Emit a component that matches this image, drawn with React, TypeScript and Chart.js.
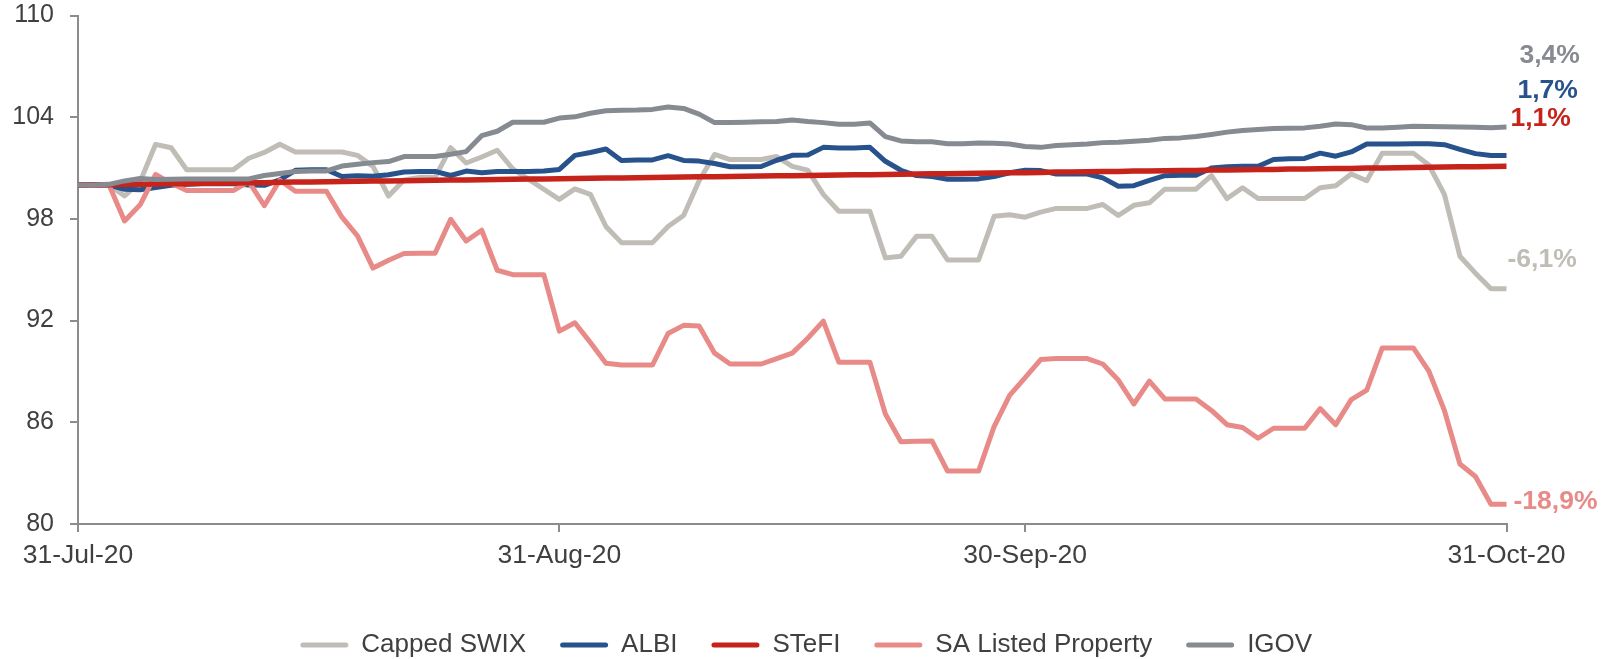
import React, { useEffect, useRef } from "react";
import { Chart, registerables } from "chart.js";

Chart.register(...registerables);

// ---------- categories ----------
const START_DATE = "2020-07-31";
const DAY_COUNT = 93;
const MONTHS = ["Jan", "Feb", "Mar", "Apr", "May", "Jun", "Jul", "Aug", "Sep", "Oct", "Nov", "Dec"];
function buildDateLabels(start: string, count: number): string[] {
  const out: string[] = [];
  const d0 = new Date(start + "T00:00:00Z");
  for (let i = 0; i < count; i++) {
    const d = new Date(d0.getTime() + i * 86400000);
    out.push(`${d.getUTCDate()}-${MONTHS[d.getUTCMonth()]}-${String(d.getUTCFullYear()).slice(2)}`);
  }
  return out;
}
const dates = buildDateLabels(START_DATE, DAY_COUNT);
const xTickLabels = ["31-Jul-20", "31-Aug-20", "30-Sep-20", "31-Oct-20"];

// ---------- series ----------
const cappedSwix = [
  100.0, 100.0, 100.0, 99.35, 100.2, 102.4, 102.2, 100.9, 100.9, 100.9,
  100.9, 101.58, 101.92, 102.4, 101.95, 101.95, 101.95, 101.95, 101.75, 101.1,
  99.35, 100.3, 100.45, 100.45, 102.2, 101.3, 101.65, 102.05, 100.95, 100.35,
  99.75, 99.15, 99.77, 99.45, 97.55, 96.6, 96.6, 96.6, 97.55, 98.2,
  100.25, 101.8, 101.5, 101.5, 101.5, 101.68, 101.1, 100.88, 99.45, 98.45,
  98.45, 98.45, 95.7, 95.8, 96.97, 96.97, 95.58, 95.58, 95.58, 98.15,
  98.25, 98.1, 98.4, 98.62, 98.62, 98.62, 98.85, 98.2, 98.8, 98.95,
  99.75, 99.75, 99.75, 100.55, 99.2, 99.84, 99.2, 99.2, 99.2, 99.2,
  99.84, 99.95, 100.65, 100.25, 101.88, 101.88, 101.88, 101.18, 99.45, 95.8,
  94.8, 93.88, 93.88,
];

const albi = [
  100.0, 100.0, 100.0, 99.75, 99.72, 99.85, 99.98, 100.05, 100.08, 100.08,
  100.08, 100.0, 99.98, 100.3, 100.87, 100.9, 100.9, 100.5, 100.55, 100.52,
  100.6, 100.77, 100.8, 100.8, 100.56, 100.82, 100.72, 100.8, 100.8, 100.8,
  100.82, 100.92, 101.75, 101.92, 102.12, 101.45, 101.47, 101.48, 101.73, 101.45,
  101.41, 101.27, 101.08, 101.08, 101.09, 101.46, 101.75, 101.77, 102.22, 102.18,
  102.18, 102.22, 101.4, 100.87, 100.56, 100.5, 100.34, 100.34, 100.36, 100.5,
  100.72, 100.87, 100.85, 100.65, 100.65, 100.65, 100.42, 99.93, 99.96, 100.27,
  100.55, 100.58, 100.58, 101.0, 101.07, 101.1, 101.1, 101.5, 101.55, 101.57,
  101.88, 101.7, 101.95, 102.42, 102.42, 102.42, 102.43, 102.43, 102.38, 102.1,
  101.85, 101.74, 101.74,
];

const stefi = [
  100.0, 100.01, 100.02, 100.04, 100.05, 100.06, 100.07, 100.08, 100.1, 100.11,
  100.12, 100.13, 100.14, 100.16, 100.17, 100.18, 100.19, 100.2, 100.22, 100.23,
  100.24, 100.25, 100.26, 100.28, 100.29, 100.3, 100.31, 100.32, 100.34, 100.35,
  100.36, 100.37, 100.38, 100.4, 100.41, 100.42, 100.43, 100.44, 100.46, 100.47,
  100.48, 100.49, 100.5, 100.52, 100.53, 100.54, 100.55, 100.56, 100.58, 100.59,
  100.6, 100.61, 100.62, 100.64, 100.65, 100.66, 100.67, 100.68, 100.7, 100.71,
  100.72, 100.73, 100.74, 100.76, 100.77, 100.78, 100.79, 100.8, 100.82, 100.83,
  100.84, 100.85, 100.86, 100.88, 100.89, 100.9, 100.91, 100.92, 100.94, 100.95,
  100.96, 100.97, 100.98, 101.0, 101.01, 101.02, 101.03, 101.04, 101.06, 101.07,
  101.08, 101.09, 101.1,
];

const saListedProperty = [
  100.0, 100.0, 100.0, 97.88, 98.83, 100.62, 100.1, 99.67, 99.67, 99.67,
  99.67, 100.2, 98.78, 100.28, 99.63, 99.63, 99.63, 98.1, 97.0, 95.1,
  95.56, 95.96, 95.98, 95.98, 97.98, 96.7, 97.33, 94.97, 94.71, 94.71,
  94.71, 91.38, 91.87, 90.71, 89.49, 89.38, 89.38, 89.38, 91.24, 91.72,
  91.68, 90.08, 89.44, 89.44, 89.44, 89.76, 90.08, 90.96, 91.97, 89.55,
  89.55, 89.55, 86.49, 84.85, 84.88, 84.9, 83.12, 83.12, 83.12, 85.75,
  87.59, 88.64, 89.7, 89.76, 89.76, 89.76, 89.44, 88.49, 87.08, 88.43,
  87.38, 87.38, 87.38, 86.7, 85.86, 85.69, 85.06, 85.65, 85.65, 85.65,
  86.81, 85.86, 87.34, 87.9, 90.39, 90.39, 90.39, 89.02, 86.7, 83.54,
  82.8, 81.16, 81.16,
];

const igov = [
  100.0, 100.0, 100.04, 100.24, 100.38, 100.33, 100.34, 100.36, 100.36, 100.36,
  100.36, 100.36, 100.56, 100.68, 100.8, 100.82, 100.83, 101.12, 101.22, 101.32,
  101.38, 101.68, 101.68, 101.68, 101.81, 101.97, 102.91, 103.17, 103.7, 103.7,
  103.7, 103.95, 104.02, 104.23, 104.38, 104.41, 104.42, 104.46, 104.6, 104.52,
  104.18, 103.68, 103.68, 103.7, 103.73, 103.75, 103.83, 103.74, 103.68, 103.58,
  103.58, 103.66, 102.85, 102.6, 102.55, 102.55, 102.43, 102.44, 102.48, 102.47,
  102.42, 102.27, 102.22, 102.33, 102.38, 102.42, 102.5, 102.52, 102.58, 102.64,
  102.75, 102.78, 102.86, 102.98, 103.12, 103.22, 103.28, 103.33, 103.35, 103.37,
  103.47, 103.6, 103.56, 103.36, 103.36, 103.41, 103.46, 103.45, 103.44, 103.42,
  103.4, 103.38, 103.42,
];

const seriesNames = ["Capped SWIX", "ALBI", "STeFI", "SA Listed Property", "IGOV"];
const endLabelTexts = ["-6,1%", "1,7%", "1,1%", "-18,9%", "3,4%"];

// ---------- styles ----------
const COLORS = ["#c0bdb7", "#27528c", "#c6231b", "#e88b88", "#868a91"];
const DRAW_ORDER = [4, 3, 1, 2, 0]; // lower = drawn on top
const END_LABEL_OFFSETS = [
  { dx: 1, dy: -29 },
  { dx: 11, dy: -64.5 },
  { dx: 4, dy: -48 },
  { dx: 7, dy: -3 },
  { dx: 13, dy: -71.5 },
];
const AXIS_COLOR = "#8c8c8c";
const TEXT_COLOR = "#404040";
const FONT = "'Liberation Sans', Arial, sans-serif";

const endLabelsPlugin = {
  id: "endLabels",
  afterDatasetsDraw(chart: any) {
    const ctx = chart.ctx;
    ctx.save();
    ctx.font = `bold 26.5px ${FONT}`;
    ctx.textAlign = "left";
    ctx.textBaseline = "middle";
    chart.data.datasets.forEach((ds: any, i: number) => {
      const meta = chart.getDatasetMeta(i);
      const pt = meta.data[meta.data.length - 1];
      if (!pt) return;
      const off = END_LABEL_OFFSETS[i];
      ctx.fillStyle = COLORS[i];
      ctx.fillText(endLabelTexts[i], pt.x + off.dx, pt.y + off.dy);
    });
    ctx.restore();
  },
};

const legendShiftPlugin = {
  id: "legendShift",
  afterLayout(chart: any) {
    const lg = chart.legend;
    if (lg) {
      lg.left += 14;
      lg.right += 14;
    }
  },
};

export default function App() {
  const ref = useRef<HTMLCanvasElement | null>(null);

  useEffect(() => {
    if (!ref.current) return;
    const values = [cappedSwix, albi, stefi, saListedProperty, igov];
    const chart = new Chart(ref.current, {
      type: "line",
      data: {
        labels: dates,
        datasets: seriesNames.map((name, i) => ({
          label: name,
          data: values[i],
          borderColor: COLORS[i],
          backgroundColor: COLORS[i],
          borderWidth: i === 2 ? 5.5 : 5,
          pointRadius: 0,
          pointHoverRadius: 0,
          tension: 0,
          fill: false,
          borderJoinStyle: "round" as const,
          borderCapStyle: "butt" as const,
          order: DRAW_ORDER[i],
        })),
      },
      options: {
        responsive: false,
        animation: false,
        devicePixelRatio: 1,
        layout: { padding: { top: 15.5, right: 102.5, bottom: -9, left: 0 } },
        plugins: {
          tooltip: { enabled: false },
          legend: {
            position: "bottom",
            fullSize: false,
            labels: {
              color: TEXT_COLOR,
              font: { family: FONT, size: 26 },
              boxWidth: 48,
              boxHeight: 5,
              padding: 34,
              useBorderRadius: true,
              borderRadius: 2.5,
              generateLabels: (chart: any) =>
                chart.data.datasets.map((ds: any, i: number) => ({
                  text: ds.label,
                  fillStyle: ds.borderColor,
                  strokeStyle: ds.borderColor,
                  lineWidth: 0,
                  fontColor: TEXT_COLOR,
                  hidden: false,
                  datasetIndex: i,
                  borderRadius: 2.5,
                })),
            },
          },
        },
        scales: {
          x: {
            type: "category",
            offset: false,
            afterFit: (s: any) => {
              s.height = 74;
            },
            border: { display: true, color: AXIS_COLOR, width: 2 },
            grid: {
              drawOnChartArea: false,
              drawTicks: true,
              tickLength: 8,
              lineWidth: 2,
              color: (c: any) => (xTickLabels.includes(dates[c.index]) ? AXIS_COLOR : "rgba(0,0,0,0)"),
            },
            ticks: {
              autoSkip: false,
              maxRotation: 0,
              minRotation: 0,
              padding: 8,
              color: TEXT_COLOR,
              font: { family: FONT, size: 26.5 },
              callback: (_v: any, idx: number) => (xTickLabels.includes(dates[idx]) ? dates[idx] : ""),
            },
          },
          y: {
            min: 80,
            max: 110,
            afterFit: (s: any) => {
              s.width = 78;
              s.paddingTop = 0;
              s.paddingBottom = 0;
            },
            border: { display: true, color: AXIS_COLOR, width: 2 },
            grid: {
              drawOnChartArea: false,
              drawTicks: true,
              tickLength: 8,
              lineWidth: 2,
              color: AXIS_COLOR,
            },
            ticks: {
              stepSize: 6,
              padding: 16,
              color: TEXT_COLOR,
              font: { family: FONT, size: 25 },
            },
          },
        },
      },
      plugins: [endLabelsPlugin, legendShiftPlugin],
    });
    return () => chart.destroy();
  }, []);

  return (
    <canvas
      ref={ref}
      width={1609}
      height={659}
      style={{ position: "absolute", left: 0, top: 0, width: 1609, height: 659, background: "#ffffff" }}
    />
  );
}
